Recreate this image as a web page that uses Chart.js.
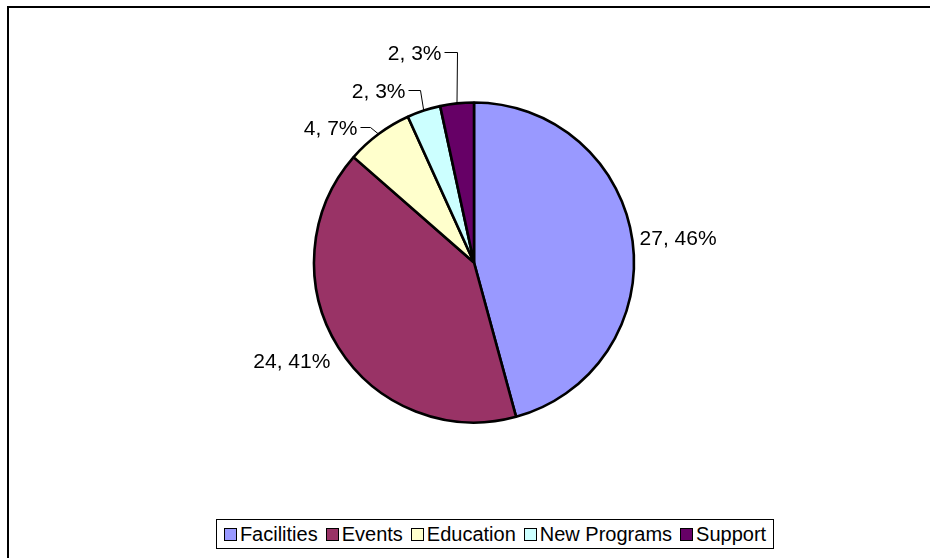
<!DOCTYPE html>
<html>
<head>
<meta charset="utf-8">
<script src="https://cdn.jsdelivr.net/npm/chart.js@4"></script>
<style>
  html, body { margin: 0; padding: 0; background: #fff; overflow: hidden; }
  #wrap { position: relative; width: 930px; height: 558px; }
  #frame {
    position: absolute; left: 7px; top: 6px; width: 1000px; height: 1000px;
    border-left: 2px solid #000; border-top: 2px solid #000;
  }
  canvas { position: absolute; left: 0; top: 0; }
  #legend {
    position: absolute; left: 216px; top: 519px; width: 558px; height: 30px;
    border: 1px solid #000; box-sizing: border-box; background: #fff;
    display: flex; align-items: center; justify-content: center;
    font: 20px "Liberation Sans", Arial, sans-serif; color: #000; white-space: nowrap;
  }
  #legend .item { display: flex; align-items: center; margin: 0 4px; }
  #legend .box { width: 11px; height: 11px; border: 1px solid #000; margin-right: 3px; }
</style>
</head>
<body>
<div id="wrap">
  <div id="frame"></div>
  <canvas id="pie" width="930" height="558"></canvas>
  <div id="legend"></div>
</div>
<script>
let categories = ["Facilities", "Events", "Education", "New Programs", "Support"];
let counts = [27, 24, 4, 2, 2];
let colors = ["#9999FF", "#993366", "#FFFFCC", "#CCFFFF", "#660066"];

// label placement, relative to the point where the slice's mid-angle meets the rim
// kind "side": text next to the rim; kind "leader": elbow line then text to the left
let placement = [
  { kind: "side", dx: 7, dy: 3.5, align: "left" },
  { kind: "side", dx: -8, dy: 21, align: "right" },
  { kind: "leader", ex: -9, ey: -7, run: 10 },
  { kind: "leader", ex: -4, ey: -21, run: 12 },
  { kind: "leader", ex: 0, ey: -51, run: 13 },
];

const labelPlugin = {
  id: "sliceLabels",
  afterDatasetsDraw(chart) {
    const ctx = chart.ctx;
    const meta = chart.getDatasetMeta(0);
    const total = counts.reduce((a, b) => a + b, 0);
    ctx.save();
    ctx.font = '21px "Liberation Sans", Arial, sans-serif';
    ctx.fillStyle = "#000";
    ctx.strokeStyle = "#000";
    ctx.lineWidth = 1;
    ctx.textBaseline = "alphabetic";
    meta.data.forEach((arc, i) => {
      const mid = (arc.startAngle + arc.endAngle) / 2;
      const rx = arc.x + arc.outerRadius * Math.cos(mid);
      const ry = arc.y + arc.outerRadius * Math.sin(mid);
      const text = counts[i] + ", " + Math.round((counts[i] / total) * 100) + "%";
      const p = placement[i];
      if (p.kind === "side") {
        ctx.textAlign = p.align;
        ctx.fillText(text, rx + p.dx, ry + p.dy);
      } else {
        const bx = Math.round(rx + p.ex) + 0.5;
        const by = Math.round(ry + p.ey) + 0.5;
        ctx.beginPath();
        ctx.moveTo(rx, ry);
        ctx.lineTo(bx, by);
        ctx.lineTo(bx - p.run, by);
        ctx.stroke();
        ctx.textAlign = "right";
        ctx.fillText(text, bx - p.run - 3, by + 7);
      }
    });
    ctx.restore();
  },
};

new Chart(document.getElementById("pie"), {
  type: "pie",
  data: {
    labels: categories,
    datasets: [
      {
        data: counts,
        backgroundColor: colors,
        borderColor: "#000",
        borderWidth: 2.6,
        hoverOffset: 0,
      },
    ],
  },
  options: {
    responsive: false,
    animation: false,
    devicePixelRatio: 1,
    radius: 160,
    layout: { padding: { left: 18, right: 0, top: 40, bottom: 73 } },
    plugins: {
      legend: { display: false },
      tooltip: { enabled: false },
    },
  },
  plugins: [labelPlugin],
});

// legend from the same arrays
const legendEl = document.getElementById("legend");
categories.forEach((name, i) => {
  const item = document.createElement("div");
  item.className = "item";
  const box = document.createElement("span");
  box.className = "box";
  box.style.background = colors[i];
  const label = document.createElement("span");
  label.textContent = name;
  item.appendChild(box);
  item.appendChild(label);
  legendEl.appendChild(item);
});
</script>
</body>
</html>
